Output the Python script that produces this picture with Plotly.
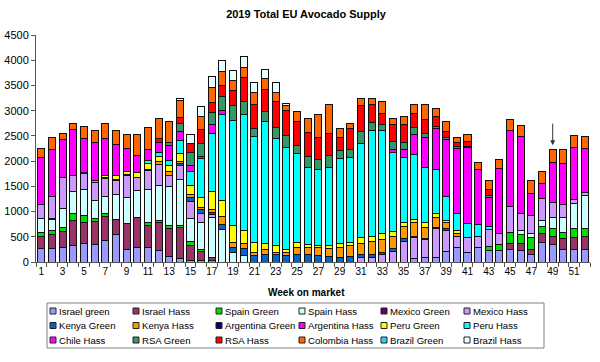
import plotly.graph_objects as go

weeks = list(range(1, 53))
tick_weeks = list(range(1, 52, 2))

series_names = ["Israel green", "Israel Hass", "Spain Green", "Spain Hass", "Mexico Green", "Mexico Hass",
                "Kenya Green", "Kenya Hass", "Argentina Green", "Argentina Hass", "Peru Green", "Peru Hass",
                "Chile Hass", "RSA Green", "RSA Hass", "Colombia Hass", "Brazil Green", "Brazil Hass"]

israel_green = [277, 264, 284, 337, 376, 343, 436, 548, 244, 297, 284, 231, 112, 66, 33, 20, 20, 0, 0, 0,
                0, 0, 0, 0, 0, 0, 0, 0, 0, 0, 0, 0, 0, 0, 0, 66, 86, 99, 211, 284,
                198, 284, 231, 231, 251, 231, 145, 396, 343, 244, 251, 251]
israel_hass = [231, 277, 323, 488, 409, 455, 475, 304, 528, 594, 449, 554, 561, 627, 304, 191, 79, 0, 0, 0,
               0, 0, 0, 0, 0, 0, 0, 0, 0, 0, 0, 0, 0, 0, 0, 0, 0, 0, 0, 0,
               0, 0, 0, 0, 125, 145, 106, 165, 165, 231, 231, 264]
spain_green = [86, 86, 86, 139, 132, 73, 46, 0, 0, 0, 46, 40, 53, 33, 79, 33, 0, 0, 0, 0,
               0, 0, 0, 0, 0, 0, 0, 0, 0, 0, 0, 0, 0, 0, 0, 0, 0, 0, 0, 0,
               0, 0, 79, 119, 218, 165, 244, 145, 152, 119, 178, 145]
spain_hass = [264, 211, 370, 442, 521, 356, 350, 488, 515, 528, 653, 693, 772, 904, 442, 548, 779, 640, 185, 132,
              0, 0, 0, 0, 0, 0, 0, 0, 0, 0, 0, 0, 0, 0, 0, 0, 0, 0, 0, 0,
              0, 0, 0, 0, 0, 86, 79, 119, 218, 284, 495, 660]
mexico_green = [0, 20, 0, 0, 0, 0, 0, 0, 0, 0, 0, 0, 0, 0, 0, 0, 0, 0, 0, 0,
                0, 0, 0, 0, 0, 0, 0, 0, 0, 0, 0, 0, 0, 0, 0, 0, 0, 0, 0, 0,
                0, 0, 0, 0, 0, 0, 0, 0, 0, 0, 0, 0]
mexico_hass = [277, 449, 607, 317, 310, 343, 350, 284, 422, 251, 383, 416, 218, 284, 350, 178, 66, 0, 0, 0,
               0, 0, 0, 0, 0, 0, 0, 0, 0, 0, 86, 99, 139, 218, 403, 416, 356, 561, 416, 224,
               284, 224, 337, 211, 508, 330, 350, 442, 310, 257, 79, 66]
kenya_green = [0, 0, 0, 0, 0, 0, 0, 0, 0, 0, 0, 0, 0, 33, 66, 66, 46, 100, 112, 132,
               132, 152, 152, 132, 152, 145, 132, 112, 86, 112, 66, 53, 40, 46, 59, 33, 20, 33, 33, 0,
               0, 0, 0, 0, 0, 0, 0, 0, 0, 0, 0, 0]
kenya_hass = [0, 0, 0, 0, 33, 46, 13, 20, 20, 15, 26, 59, 73, 53, 66, 40, 46, 158, 99, 99,
              66, 92, 46, 66, 132, 139, 152, 152, 198, 218, 224, 264, 264, 244, 251, 264, 231, 198, 119, 53,
              0, 0, 0, 0, 0, 0, 0, 0, 0, 0, 0, 0]
argentina_green = [0] * 52
argentina_hass = [0] * 52
peru_green = [0, 0, 0, 0, 0, 0, 40, 66, 73, 97, 106, 99, 125, 145, 178, 211, 370, 330, 330, 264,
              198, 119, 132, 46, 112, 66, 46, 66, 79, 53, 106, 99, 119, 106, 79, 59, 99, 66, 46, 66,
              0, 0, 0, 0, 0, 0, 0, 0, 0, 0, 0, 0]
peru_hass = [0, 0, 0, 0, 0, 0, 0, 0, 0, 0, 66, 86, 99, 264, 284, 759, 1148, 1703, 2079, 2297,
             2092, 2422, 2112, 2033, 1749, 1518, 1498, 1551, 1683, 1683, 1861, 2092, 2046, 1551, 1274, 1294, 1076, 871, 475, 343,
             290, 238, 59, 0, 0, 0, 0, 0, 0, 0, 0, 0]
chile_hass = [944, 931, 766, 911, 673, 752, 746, 614, 442, 323, 218, 185, 304, 178, 112, 46, 172, 66, 0, 0,
              0, 0, 0, 0, 0, 0, 0, 0, 0, 0, 0, 0, 0, 66, 158, 389, 607, 825, 1122, 1274,
              1492, 1082, 581, 1287, 1505, 1531, 442, 284, 779, 825, 1043, 871]
rsa_green = [0, 0, 0, 0, 0, 0, 0, 0, 0, 0, 0, 0, 53, 152, 264, 264, 238, 277, 297, 264,
             152, 205, 231, 231, 165, 224, 198, 231, 165, 158, 251, 165, 119, 165, 152, 139, 79, 33, 40, 53,
             26, 0, 33, 0, 0, 0, 0, 0, 0, 0, 0, 0]
rsa_hass = [0, 0, 0, 0, 0, 0, 0, 0, 0, 0, 0, 79, 0, 132, 165, 264, 205, 218, 297, 462,
            475, 422, 515, 495, 475, 482, 436, 429, 251, 416, 508, 343, 211, 330, 350, 277, 264, 198, 125, 79,
            106, 0, 112, 0, 0, 0, 0, 0, 0, 0, 0, 0]
colombia_hass = [178, 224, 119, 106, 224, 244, 284, 277, 284, 416, 429, 396, 409, 330, 0, 264, 297, 284, 198, 198,
                 251, 218, 178, 99, 198, 264, 455, 574, 191, 99, 145, 119, 244, 112, 158, 178, 304, 165, 198, 99,
                 125, 152, 185, 185, 218, 218, 251, 251, 264, 264, 231, 231]
brazil_green = [0] * 52
brazil_hass = [0, 0, 0, 0, 0, 0, 0, 0, 0, 0, 0, 0, 0, 46, 185, 205, 211, 211, 198, 224,
               185, 185, 185, 33, 0, 0, 0, 0, 0, 0, 0, 0, 0, 0, 0, 0, 0, 0, 0, 0,
               0, 0, 0, 0, 0, 0, 0, 0, 0, 0, 0, 0]

series_values = [israel_green, israel_hass, spain_green, spain_hass, mexico_green, mexico_hass,
                 kenya_green, kenya_hass, argentina_green, argentina_hass, peru_green, peru_hass,
                 chile_hass, rsa_green, rsa_hass, colombia_hass, brazil_green, brazil_hass]

colors = ["#9999FF", "#993366", "#00DD00", "#CCFFFF", "#660066", "#CC99FF",
          "#0066CC", "#FF9900", "#000080", "#FF00FF", "#FFFF00", "#00FFFF",
          "#FF00FF", "#339966", "#FF0000", "#FF6600", "#33CCFF", "#E6FFFF"]

FONT = "Arial, Liberation Sans, sans-serif"
W, H = 600, 362
L, R, T, B = 36, 10, 35, 100
PW, PH = W - L - R, H - T - B


def xp(px):
    return (px - L) / PW


def yp(py):
    return (H - B - py) / PH


fig = go.Figure()
for name, vals, col in zip(series_names, series_values, colors):
    fig.add_trace(go.Bar(
        x=weeks, y=[v if v else None for v in vals], name=name,
        marker=dict(color=col, line=dict(color="#111111", width=1)),
        showlegend=False,
    ))

shapes = []
annotations = []

# legend box
shapes.append(dict(type="rect", xref="paper", yref="paper",
                   x0=xp(47), x1=xp(544), y0=yp(348), y1=yp(303),
                   line=dict(color="#808080", width=1), fillcolor="rgba(0,0,0,0)"))
col_x = [50, 133, 216, 299, 381, 464]
row_y = [311, 325.5, 340]
for i, (name, col) in enumerate(zip(series_names, colors)):
    cx = col_x[i % 6]
    ry = row_y[i // 6]
    shapes.append(dict(type="rect", xref="paper", yref="paper",
                       x0=xp(cx), x1=xp(cx + 6), y0=yp(ry + 3), y1=yp(ry - 3),
                       line=dict(color="#222222", width=1), fillcolor=col))
    annotations.append(dict(text=name, xref="paper", yref="paper", x=xp(cx + 7), y=yp(ry),
                            xanchor="left", yanchor="middle", showarrow=False,
                            font=dict(family=FONT, size=9.6, color="black")))

annotations.append(dict(text="<b>Week on market</b>", xref="paper", yref="paper",
                        x=xp(306), y=yp(292), xanchor="center", yanchor="middle", showarrow=False,
                        font=dict(family=FONT, size=10, color="black")))

annotations.append(dict(x=49, y=2316, xref="x", yref="y", text="", showarrow=True,
                        ax=0, ay=-23, arrowhead=2, arrowsize=1, arrowwidth=1, arrowcolor="#333333"))

fig.update_layout(
    width=W, height=H,
    margin=dict(l=L, r=R, t=T, b=B, autoexpand=False),
    paper_bgcolor="white", plot_bgcolor="white",
    barmode="stack", bargap=0.34,
    hovermode=False,
    title=dict(text="<b>2019 Total EU Avocado Supply</b>", x=306 / W, xref="container",
               y=1 - 14 / H, yref="container", xanchor="center", yanchor="middle",
               font=dict(family=FONT, size=11, color="black")),
    font=dict(family=FONT, color="black"),
    shapes=shapes, annotations=annotations,
    xaxis=dict(range=[0.5, 52.5], tickmode="array", tickvals=tick_weeks, ticktext=[str(t) for t in tick_weeks],
               ticks="", showline=True, linecolor="#555555", linewidth=1, showgrid=False, zeroline=False,
               automargin=False,
               tickfont=dict(family=FONT, size=10, color="black"),
               minor=dict(ticks="outside", tick0=0.5, dtick=1, ticklen=4, tickcolor="#555555", showgrid=False)),
    yaxis=dict(range=[0, 4500], dtick=500, ticks="outside", ticklen=4, tickcolor="#555555",
               showline=True, linecolor="#555555", linewidth=1, showgrid=False, zeroline=False,
               automargin=False, ticklabelstandoff=0,
               tickfont=dict(family=FONT, size=11, color="black")),
)

fig.write_html("out.html", config={"displayModeBar": False},
               post_script="document.body.style.margin='0';document.body.style.overflow='hidden';")
